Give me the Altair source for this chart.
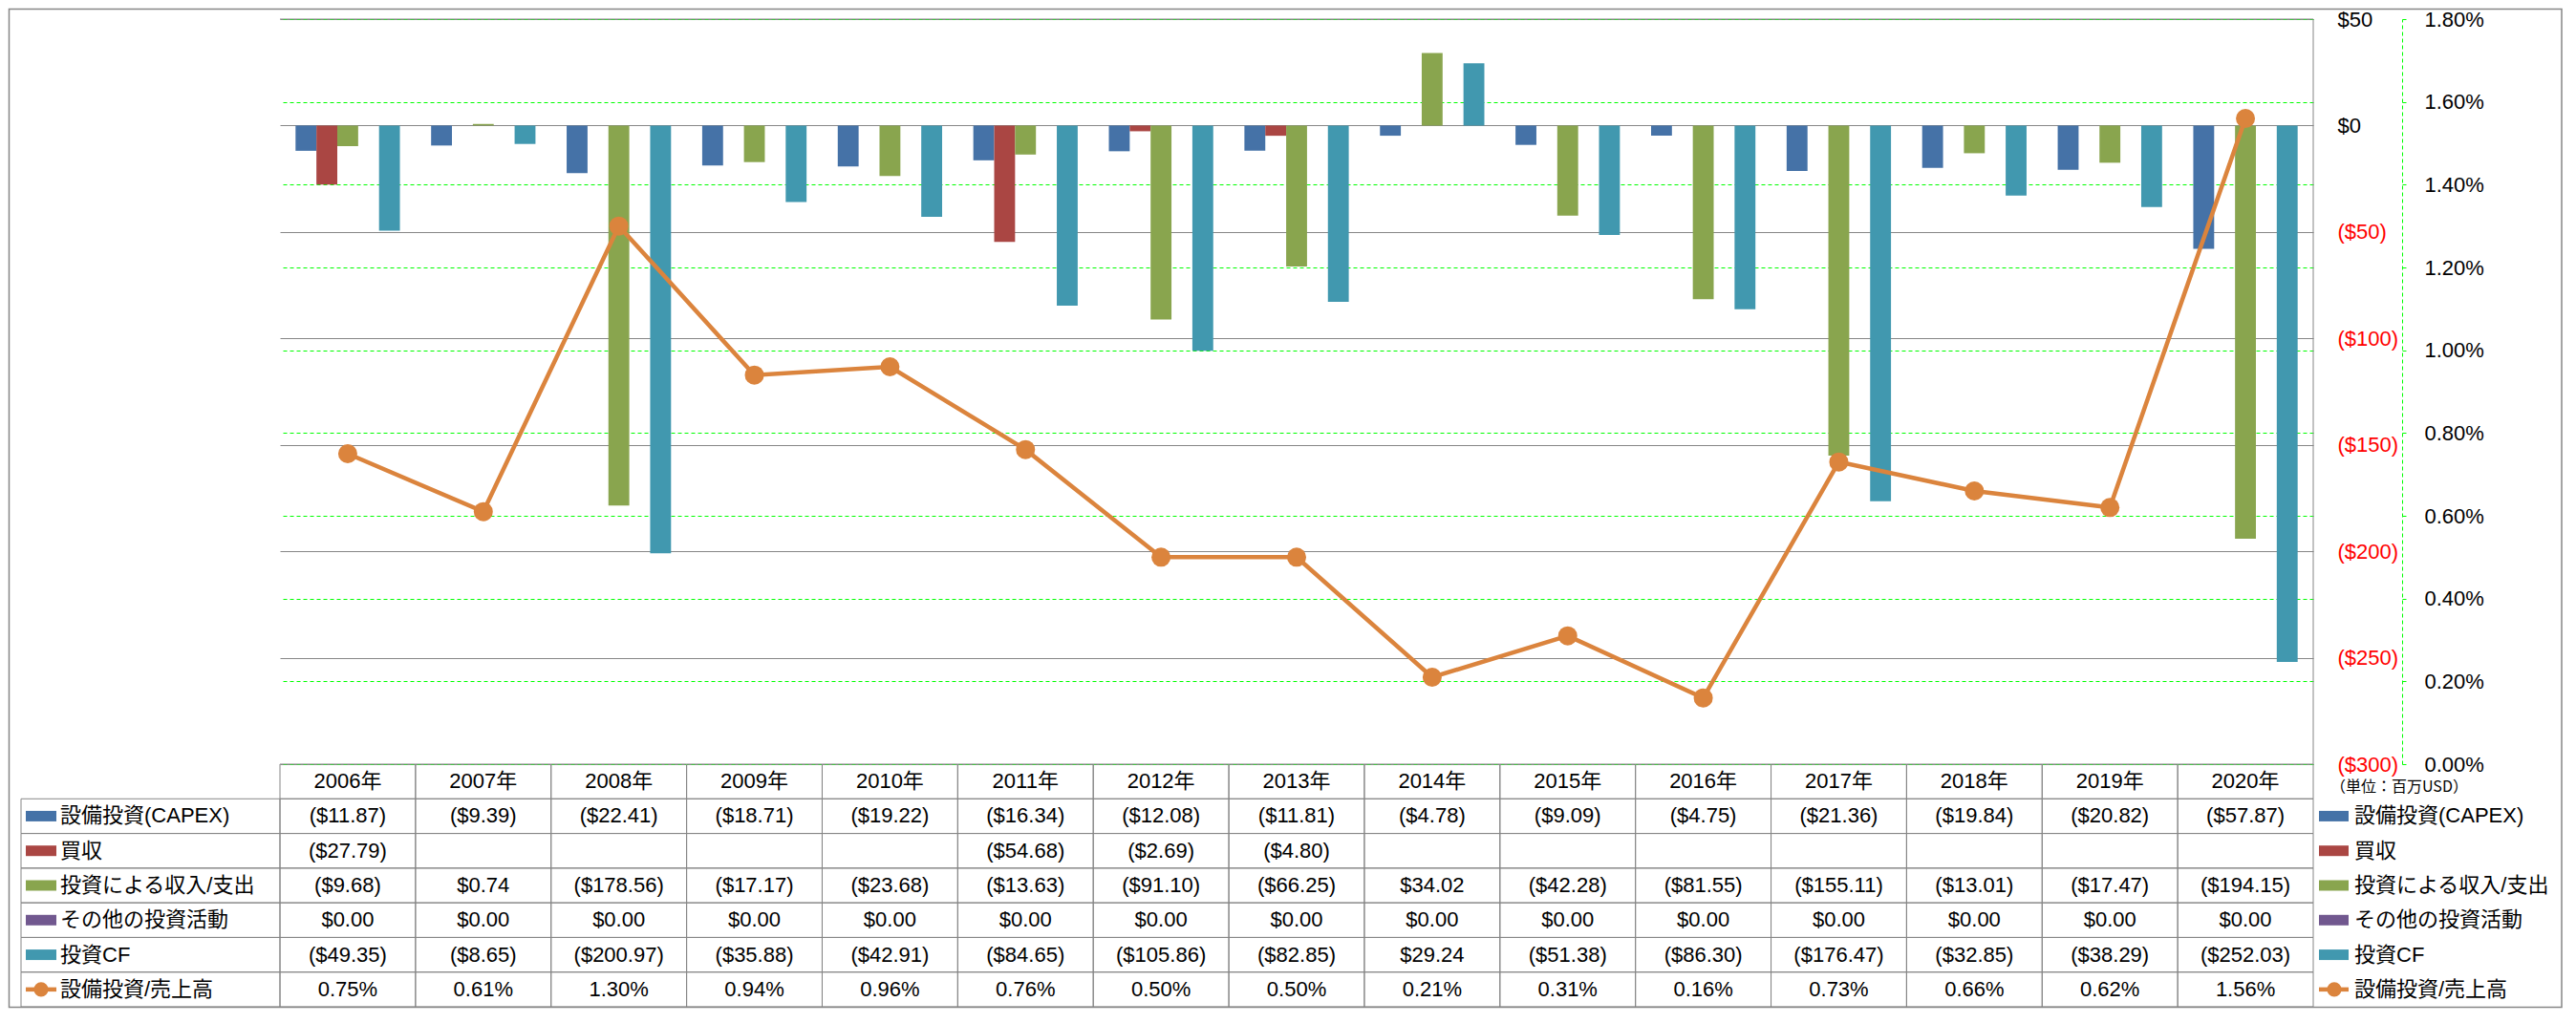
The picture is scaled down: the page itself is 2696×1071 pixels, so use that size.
import altair as alt
import pandas as pd

# ---------------- data ----------------
years = [2006, 2007, 2008, 2009, 2010, 2011, 2012, 2013, 2014, 2015, 2016, 2017, 2018, 2019, 2020]
year_labels = [f"{y}年" for y in years]

series_names = ["設備投資(CAPEX)", "買収", "投資による収入/支出", "その他の投資活動", "投資CF"]
ratio_name = "設備投資/売上高"

capex = [-11.87, -9.39, -22.41, -18.71, -19.22, -16.34, -12.08, -11.81, -4.78, -9.09, -4.75, -21.36, -19.84, -20.82, -57.87]
acquisition = [-27.79, None, None, None, None, -54.68, -2.69, -4.80, None, None, None, None, None, None, None]
invest_income = [-9.68, 0.74, -178.56, -17.17, -23.68, -13.63, -91.10, -66.25, 34.02, -42.28, -81.55, -155.11, -13.01, -17.47, -194.15]
other_invest = [0.00, 0.00, 0.00, 0.00, 0.00, 0.00, 0.00, 0.00, 0.00, 0.00, 0.00, 0.00, 0.00, 0.00, 0.00]
invest_cf = [-49.35, -8.65, -200.97, -35.88, -42.91, -84.65, -105.86, -82.85, 29.24, -51.38, -86.30, -176.47, -32.85, -38.29, -252.03]
capex_ratio_pct = [0.75, 0.61, 1.30, 0.94, 0.96, 0.76, 0.50, 0.50, 0.21, 0.31, 0.16, 0.73, 0.66, 0.62, 1.56]

money_ticks = [-300, -250, -200, -150, -100, -50, 0, 50]
pct_ticks = [0.0, 0.002, 0.004, 0.006, 0.008, 0.010, 0.012, 0.014, 0.016, 0.018]

colors = ["#4572A7", "#AA4643", "#89A54E", "#71588F", "#4198AF"]
line_color = "#DB843D"
grid_gray = "#868686"
grid_green = "#00FF00"
FONT = "Liberation Sans, Noto Sans CJK JP"

W, H, T = 2128, 780, 254

series_values = [capex, acquisition, invest_income, other_invest, invest_cf]

# ---------------- frames ----------------
bar_rows = []
for name, vals in zip(series_names, series_values):
    for yl, v in zip(year_labels, vals):
        bar_rows.append({"year": yl, "series": name, "value": v})
bar_df = pd.DataFrame(bar_rows)

line_df = pd.DataFrame({"year": year_labels, "ratio": [p / 100 for p in capex_ratio_pct]})


def money(v):
    if v is None:
        return ""
    if v < 0:
        return f"(${abs(v):.2f})"
    return f"${v:.2f}"


row_keys = ["header"] + series_names + [ratio_name]
cell_rows = []
for i, yl in enumerate(year_labels):
    cell_rows.append({"year": yl, "row": "header", "text": yl})
    for name, vals in zip(series_names, series_values):
        cell_rows.append({"year": yl, "row": name, "text": money(vals[i])})
    cell_rows.append({"year": yl, "row": ratio_name, "text": f"{capex_ratio_pct[i]:.2f}%"})
cell_df = pd.DataFrame(cell_rows)

label_df = pd.DataFrame({"row": series_names + [ratio_name]})
key_df = pd.DataFrame({"row": series_names})
ratio_key_df = pd.DataFrame({"row": [ratio_name]})
one = pd.DataFrame({"k": [0]})

# ---------------- top plot ----------------
xscale = alt.Scale(domain=year_labels, paddingInner=0.23, paddingOuter=0.115)

border = alt.Chart(one).mark_rect(fill="transparent", stroke=grid_gray, strokeWidth=1.5).encode(
    x=alt.value(-283.5), x2=alt.value(2388), y=alt.value(-10.5), y2=alt.value(H + T + 0.5)
)
right_edge = alt.Chart(one).mark_rule(color=grid_gray, strokeWidth=1).encode(
    x=alt.value(W), y=alt.value(0), y2=alt.value(H)
)
top_edge = alt.Chart(one).mark_rule(color=grid_gray, strokeWidth=1).encode(
    x=alt.value(0), x2=alt.value(W), y=alt.value(0)
)

bars = alt.Chart(bar_df).mark_bar().encode(
    x=alt.X("year:N", scale=xscale, sort=year_labels, axis=None),
    xOffset=alt.XOffset("series:N", sort=series_names,
                        scale=alt.Scale(domain=series_names, paddingInner=0, paddingOuter=0)),
    y=alt.Y("value:Q", scale=alt.Scale(domain=[-300, 50], nice=False),
            axis=alt.Axis(orient="right", values=money_ticks, title=None,
                          labelExpr="datum.value < 0 ? '($' + abs(datum.value) + ')' : '$' + datum.value",
                          labelColor={"condition": {"test": "datum.value < 0", "value": "#FF0000"}, "value": "#000000"},
                          labelPadding=25, labelAlign="left", labelFont=FONT, labelFontSize=22,
                          labelFlush=False, labelOverlap=False,
                          domain=False, ticks=False, tickSize=0,
                          grid=True, gridColor=grid_gray, gridWidth=1)),
    color=alt.Color("series:N", scale=alt.Scale(domain=series_names, range=colors), legend=None),
)

line = alt.Chart(line_df).mark_line(
    color=line_color, strokeWidth=4.5,
    point=alt.OverlayMarkDef(filled=True, size=400, color=line_color, opacity=1),
).encode(
    x=alt.X("year:N", sort=year_labels, axis=None),
    y=alt.Y("ratio:Q", scale=alt.Scale(domain=[0, 0.018], nice=False),
            axis=alt.Axis(orient="right", offset=93, values=pct_ticks, format=".2%", title=None,
                          labelFont=FONT, labelFontSize=22, labelColor="#000000", labelPadding=16,
                          labelAlign="left", labelFlush=False, labelOverlap=False,
                          domain=True, domainColor=grid_green, domainDash=[4, 3], domainWidth=1,
                          ticks=True, tickColor=grid_green, tickSize=7, tickDash=[4, 3], tickWidth=1,
                          grid=True, gridColor=grid_green, gridDash=[4, 3], gridWidth=1)),
)

top = alt.layer(border, right_edge, top_edge, bars, line).resolve_scale(y="independent").properties(width=W, height=H)

# ---------------- data table ----------------
tx = alt.X("year:N", sort=year_labels, scale=alt.Scale(domain=year_labels, paddingInner=0, paddingOuter=0), axis=None)
ty = alt.Y("row:N", sort=row_keys, scale=alt.Scale(domain=row_keys, paddingInner=0, paddingOuter=0), axis=None)

cells = alt.Chart(cell_df).mark_rect(fill="transparent", stroke=grid_gray, strokeWidth=1).encode(x=tx, y=ty)
label_cells = alt.Chart(label_df).mark_rect(fill="transparent", stroke=grid_gray, strokeWidth=1).encode(
    x=alt.value(-271), x2=alt.value(0), y=ty
)
cell_text = alt.Chart(cell_df).mark_text(font=FONT, fontSize=22, color="#000000").encode(
    x=tx, y=ty, text="text:N"
)
color_enc = alt.Color("row:N", scale=alt.Scale(domain=series_names, range=colors), legend=None)

left_keys = alt.Chart(key_df).mark_rule(strokeWidth=11).encode(
    x=alt.value(-266), x2=alt.value(-234), y=ty, color=color_enc
)
right_keys = alt.Chart(key_df).mark_rule(strokeWidth=11).encode(
    x=alt.value(2134), x2=alt.value(2165), y=ty, color=color_enc
)
left_rkey = alt.Chart(ratio_key_df).mark_rule(strokeWidth=4.5, color=line_color).encode(
    x=alt.value(-266), x2=alt.value(-234), y=ty
)
left_rpt = alt.Chart(ratio_key_df).mark_point(filled=True, size=230, color=line_color, opacity=1).encode(
    x=alt.value(-250), y=ty
)
right_rkey = alt.Chart(ratio_key_df).mark_rule(strokeWidth=4.5, color=line_color).encode(
    x=alt.value(2134), x2=alt.value(2165), y=ty
)
right_rpt = alt.Chart(ratio_key_df).mark_point(filled=True, size=230, color=line_color, opacity=1).encode(
    x=alt.value(2150), y=ty
)
left_labels = alt.Chart(label_df).mark_text(font=FONT, fontSize=22, align="left", color="#000000").encode(
    x=alt.value(-230), y=ty, text="row:N"
)
right_labels = alt.Chart(label_df).mark_text(font=FONT, fontSize=22, align="left", color="#000000").encode(
    x=alt.value(2171), y=ty, text="row:N"
)
unit = alt.Chart(one).mark_text(font="Noto Sans CJK JP", fontSize=16, align="left", color="#000000").encode(
    x=alt.value(2146), y=alt.value(24), text=alt.value("（単位：百万USD）")
)

table = alt.layer(
    cells, label_cells, cell_text, left_keys, right_keys, left_rkey, left_rpt,
    right_rkey, right_rpt, left_labels, right_labels, unit
).properties(width=W, height=T)

chart = alt.vconcat(top, table, spacing=0, bounds="flush").properties(
    padding=0, background="white"
).configure_view(stroke=None)

chart.save("out.html", embed_options={"renderer": "svg", "actions": False})
